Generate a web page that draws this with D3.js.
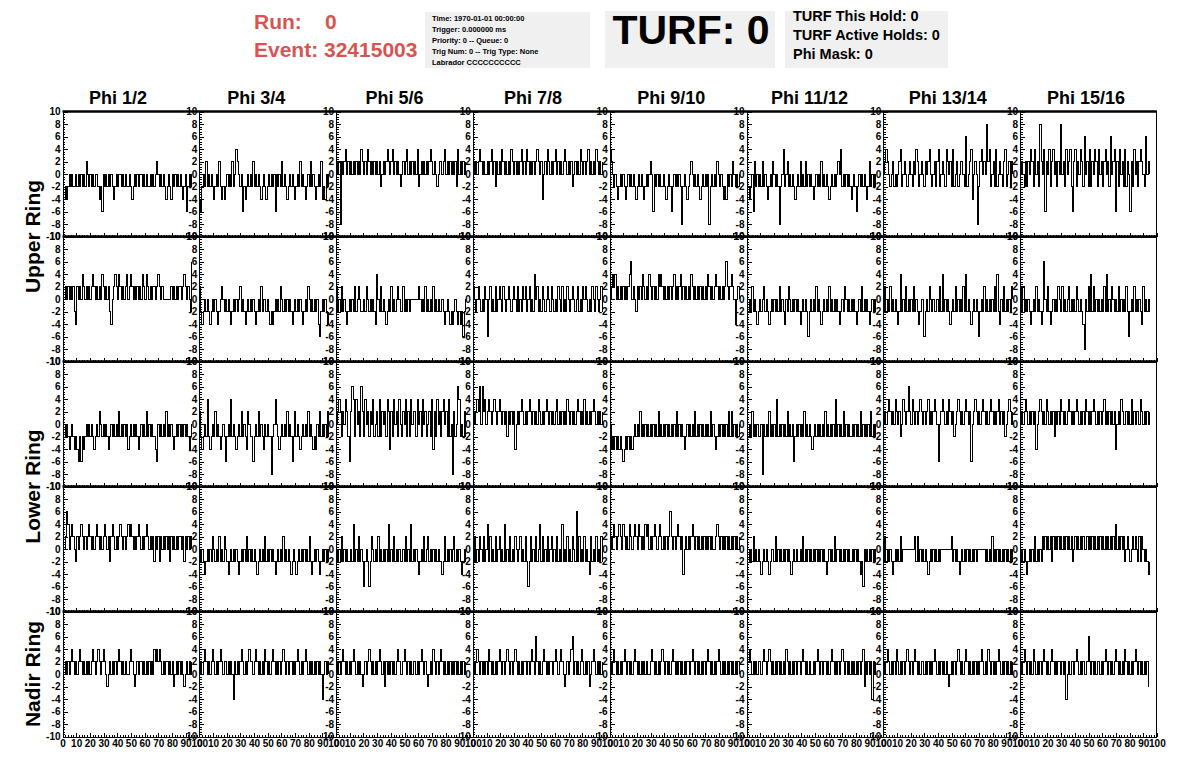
<!DOCTYPE html>
<html>
<head>
<meta charset="utf-8">
<script src="https://cdn.jsdelivr.net/npm/d3@7"></script>
<style>
  body { margin: 0; background: #fff; }
  svg { display: block; font-family: "Liberation Sans", Arial, Helvetica, sans-serif; font-weight: bold; }
</style>
</head>
<body>
<svg id="chart" width="1196" height="772"></svg>
<script>
// Labels
const phiLabels = ['Phi 1/2', 'Phi 3/4', 'Phi 5/6', 'Phi 7/8', 'Phi 9/10', 'Phi 11/12', 'Phi 13/14', 'Phi 15/16'];
const ringLabels = ['Upper Ring', 'Lower Ring', 'Nadir Ring'];
const yTicks = [-10, -8, -6, -4, -2, 0, 2, 4, 6, 8, 10];
const xTicks = [0, 10, 20, 30, 40, 50, 60, 70, 80, 90, 100];
const infoLines = ['Time: 1970-01-01 00:00:00', 'Trigger: 0.000000 ms', 'Priority: 0 -- Queue: 0',
  'Trig Num: 0 -- Trig Type: None', 'Labrador CCCCCCCCCC'];
const turfLines = ['TURF This Hold: 0', 'TURF Active Holds: 0', 'Phi Mask: 0'];

// Waveforms, one string per phi sector, one digit per sample: value = (digit - 4) * 2
const upperRingTop = [
  '3232343433 4343434354 3434344323 1434343432 3434434343 3432343434 4343433434 3454343432 3432434343 4323413434',
  '2134353434 3234353232 3434353465 4341323434 3534343234 3234343414 3435343234 3432343534 3234353432 3435232434',
  '5450545645 4545454546 5454654545 4545345456 5456454543 4545645454 5463454545 4565454345 5456454545 4536454545',
  '5454565454 4545645354 5465454546 5454545645 4654545456 5452454654 5456454545 6545453454 5465454564 5454654545',
  '6543432343 4323434343 2343432343 4541434343 3432343134 3434303432 3454343432 3434340343 4354343232 4343543434',
  '5323415343 4353432343 5434303463 4534343234 3534353434 3234343534 3432343434 5463434343 2343134343 4323534343',
  '4565434534 3456345434 5435465345 4354564345 3563454365 4536345345 5437345624 5403564548 5634536345 4356345354',
  '4543535465 3645385461 5463564535 4845364563 1563546537 4536354653 6453564537 4561536453 6354153645 3565437454'
];
const upperRingBottom = [
  '5454545453 2545465454 5456545454 6545453245 6546545456 4565454545 4654654545 5456545444 4445454545 5456545437',
  '5323434323 4343234543 4343234343 4534323434 3432343534 4343232343 4354343434 3234343432 3435434343 4213434323',
  '5343534323 4343534543 3435434343 2643534323 4353434543 3534343444 4445434353 4343534343 3432343232 3432323134',
  '5434543435 4145343534 5435434543 4543534354 5345343645 3435434543 5434354353 4354345434 5343545434 3543543453',
  '4565645454 5454567454 3545465454 6545454656 5454545456 4545645454 5465454545 4545465454 5654545457 5456542454',
  '4343534323 4345343234 3434353432 4354343434 3234343134 3435343234 3435343434 3234354343 4343234353 4343234343',
  '3534353434 3236343534 3435343234 4134354343 3435363434 3234353434 3536343234 3431343534 3434353632 4353434354',
  '5353434323 4353432374 3532343435 4353434534 3435434320 4353635343 4343536343 5434353434 3531343534 3432534343'
];
const lowerRingTop = [
  '3434323432 3213132343 4343234354 3434323434 3435343434 2343434323 4343534343 3214343435 3434323434 3434343234',
  '5323436323 4353432343 1343634323 4353432543 3134353432 4343303464 3234343534 3135343234 3435343232 4353434353',
  '4565354653 1576364537 5364535463 4536354536 5253645364 3546353645 5364536453 4536253645 3564536340 5347634353',
  '5456574756 4565456545 6545453545 4524545654 5456545454 6545456545 4545645454 5465454545 6545464545 4565454545',
  '4232323232 1232323234 3435343434 3434343534 3434343434 3534343234 3434353434 3434343534 3234343434 3535343434',
  '5343534343 3404343534 3436343434 3534341343 4343534343 2343434343 5343434363 4343534343 3434343534 3434353434',
  '4545654546 5453465457 5465454565 4545645456 5414565454 6545345654 5456545145 6545456545 4565454564 5453456545',
  '4545654545 4524565454 6545453545 4654545654 5456545454 6545456545 4545645454 5452454654 4545464545 5465454545'
];
const lowerRingBottom = [
  '5457645654 3545654545 6545456545 4565453565 4545654545 6565454565 4545654545 3545354545 4535454545 5453545454',
  '4343234343 5434353435 4323434343 2343435343 4343234343 5343434323 4343534343 2343234343 4343532343 4323434343',
  '4343534343 3436343534 3134313543 4353434343 6343534343 3435343634 3432343534 5343434343 3235343434 5343432343',
  '3534354353 4635343534 5343634353 4354345343 5313534353 4635343534 5343534363 4353435437 3534353432 5343534353',
  '5456545654 6545465456 5465454656 4545654565 4545457545 4565452454 5456545454 5454545454 4565454545 4545454545',
  '3434353434 3234343234 4353434343 4343234343 3435343434 3434343434 3234343534 4343434343 3434343231 4343434343',
  '3534343234 3435344444 4444535343 4343234343 4343444444 4453434323 4343434343 4344444434 3435343434 3434343434',
  '3434323434 3534343545 4545354545 4545454545 3454545454 4545454545 4545454545 4546454545 3454345454 3535434323'
];
const nadirRing = [
  '5454545654 5456545454 5456545654 5654345454 5456545454 4565434545 5454545454 6565654545 5454534545 4543454545',
  '4545654545 6545456545 5454542545 4565454565 5456545454 6545456545 4545654545 5454565454 5654545454 5454245454',
  '5454565454 5456545454 3454565454 5456545354 5454545654 4565454545 5454565454 3454654545 6545454545 4545454545',
  '5456545454 5465454545 6545456545 4565454545 5454565475 4545654545 5456545654 3454567454 5456545453 4565454545',
  '5456545454 5654545456 5454545454 4565454545 6545454565 4545454545 5456545454 5454565454 5456545454 5454545454',
  '4565454545 5456545654 5454545454 6545454545 5456545454 4545654545 5454565454 5456545454 5454545456 3545452545',
  '5456545454 6545454565 4545654545 5454545456 5454545454 3454545654 5456545454 5454565454 6545454565 4545454545',
  '5456545454 6545454565 4545654545 5454524545 5456545454 4575454545 5454565454 5456545454 6545454565 4545454533'
];
const sampleStep = 0.955; // ns per sample

const rows = [upperRingTop, upperRingBottom, lowerRingTop, lowerRingBottom, nadirRing];

// Layout
const X0 = 62.5, PW = 136.8, Y0 = 111.5, RH = 125;
const red = '#d65551';
const grey = '#f0f0f0';

const svg = d3.select('#chart');

const decode = s => Array.from(s.replace(/ /g, '')).map((c, i) => ({ x: i * sampleStep, y: (+c - 4) * 2 }));

// Header
svg.append('text').attr('x', 254).attr('y', 29).attr('fill', red).attr('font-size', 21).text('Run:');
svg.append('text').attr('x', 325).attr('y', 29).attr('fill', red).attr('font-size', 21).text('0');
svg.append('text').attr('x', 254).attr('y', 57).attr('fill', red).attr('font-size', 21).text('Event: 32415003');

svg.append('rect').attr('x', 425).attr('y', 12).attr('width', 165).attr('height', 56).attr('fill', grey);
svg.selectAll('text.info')
  .data(infoLines)
  .join('text')
  .attr('class', 'info')
  .attr('x', 432)
  .attr('y', (d, i) => 21 + i * 11)
  .attr('font-size', 7.5)
  .text(d => d);

svg.append('rect').attr('x', 605).attr('y', 11).attr('width', 170).attr('height', 57).attr('fill', grey);
svg.append('text').attr('x', 691).attr('y', 44).attr('text-anchor', 'middle').attr('font-size', 41).text('TURF: 0');

svg.append('rect').attr('x', 785).attr('y', 11).attr('width', 163).attr('height', 57).attr('fill', grey);
svg.selectAll('text.turf')
  .data(turfLines)
  .join('text')
  .attr('class', 'turf')
  .attr('x', 793)
  .attr('y', (d, i) => 21 + i * 19)
  .attr('font-size', 14.5)
  .text(d => d);

// Column and row titles
svg.selectAll('text.phi')
  .data(phiLabels)
  .join('text')
  .attr('class', 'phi')
  .attr('x', (d, i) => 118 + i * 138.3)
  .attr('y', 104)
  .attr('text-anchor', 'middle')
  .attr('font-size', 18)
  .text(d => d);

const ringCentres = [Y0 + RH, Y0 + 3 * RH, Y0 + 4.5 * RH];
svg.selectAll('text.ring')
  .data(ringLabels)
  .join('text')
  .attr('class', 'ring')
  .attr('transform', (d, i) => `translate(40,${ringCentres[i]}) rotate(-90)`)
  .attr('text-anchor', 'middle')
  .attr('font-size', 21)
  .text(d => d);

// Panels
const line = d3.line().curve(d3.curveStepAfter);
const styleAxis = g => {
  g.attr('font-family', null).attr('font-size', null);
  g.selectAll('text').attr('font-size', 10).attr('fill', '#000');
  g.selectAll('line, path').attr('stroke', '#000').attr('shape-rendering', 'crispEdges');
};

rows.forEach((ring, r) => {
  ring.forEach((wave, c) => {
    const left = X0 + c * PW;
    const top = Y0 + r * RH;
    const x = d3.scaleLinear().domain([0, 100]).range([left, left + PW]);
    const y = d3.scaleLinear().domain([-10, 10]).range([top + RH, top]);
    const g = svg.append('g').attr('class', `panel r${r} c${c}`);

    // Waveform trace
    g.append('path')
      .datum(decode(wave))
      .attr('fill', 'none')
      .attr('stroke', '#000')
      .attr('stroke-width', 1)
      .attr('shape-rendering', 'crispEdges')
      .attr('d', line.x(d => x(d.x)).y(d => y(d.y)));

    // Minor ticks
    g.append('g')
      .attr('transform', `translate(${left},0)`)
      .call(d3.axisLeft(y).tickValues(d3.range(-10, 10.01, 0.4)).tickSizeInner(-2.5).tickSizeOuter(0).tickFormat(''))
      .call(a => a.select('.domain').remove())
      .call(styleAxis);
    g.append('g')
      .attr('transform', `translate(0,${top + RH})`)
      .call(d3.axisBottom(x).tickValues(d3.range(0, 100.01, 2)).tickSizeInner(-2).tickSizeOuter(0).tickFormat(''))
      .call(a => a.select('.domain').remove())
      .call(styleAxis);

    // Major ticks, labels and frame lines
    g.append('g')
      .attr('transform', `translate(${left},0)`)
      .call(d3.axisLeft(y).tickValues(yTicks).tickSizeInner(-5).tickSizeOuter(0).tickPadding(2)
        .tickFormat(d => String(d)))
      .call(styleAxis);
    g.append('g')
      .attr('transform', `translate(0,${top + RH})`)
      .call(d3.axisBottom(x).tickValues(xTicks).tickSizeInner(-4).tickSizeOuter(0).tickPadding(3)
        .tickFormat(d => r === rows.length - 1 ? String(d) : ''))
      .call(styleAxis);
  });
});

// Thick top borders of each row and right edge of the last column
svg.selectAll('line.rowtop')
  .data(rows)
  .join('line')
  .attr('class', 'rowtop')
  .attr('x1', X0)
  .attr('x2', X0 + 8 * PW)
  .attr('y1', (d, i) => Y0 + i * RH)
  .attr('y2', (d, i) => Y0 + i * RH)
  .attr('stroke', '#000')
  .attr('stroke-width', 2.5);

svg.append('line')
  .attr('x1', X0 + 8 * PW).attr('x2', X0 + 8 * PW)
  .attr('y1', Y0).attr('y2', Y0 + 5 * RH)
  .attr('stroke', '#000')
  .attr('shape-rendering', 'crispEdges');
</script>
</body>
</html>
